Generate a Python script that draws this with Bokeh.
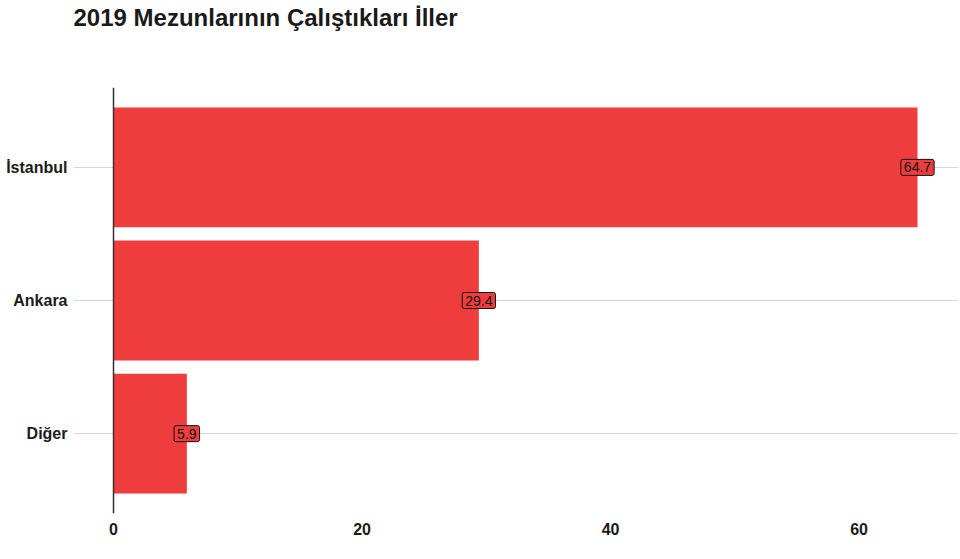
from bokeh.plotting import figure
from bokeh.models import Range1d, FactorRange, Span, ColumnDataSource, Title
from bokeh.core.properties import value
from bokeh.embed import file_html
from bokeh.resources import INLINE

cities = ["Diğer", "Ankara", "İstanbul"]
shares = [5.9, 29.4, 64.7]
x_ticks = [0, 20, 40, 60]

BAR = "#ef3d3e"
FONT = "Liberation Sans"

src = ColumnDataSource(dict(city=cities, share=shares, txt=[f"{v}" for v in shares]))

p = figure(width=960, height=559, output_backend="svg", toolbar_location=None,
           y_range=FactorRange(factors=cities, range_padding=0.1, range_padding_units="absolute"),
           x_range=Range1d(-3.22, 68.0),
           min_border_left=73, min_border_right=2, min_border_top=87, min_border_bottom=46)

p.title.text = "2019 Mezunlarının Çalıştıkları İller"
p.title.text_font = FONT
p.title.text_font_size = "24px"
p.title.text_font_style = "bold"
p.title.text_color = "#1a1a1a"
p.title.align = "left"
p.title.standoff = 2

# empty spacer between title and plot area
p.add_layout(Title(text=" ", text_font_size="10px", standoff=43), "above")

p.hbar(y="city", right="share", left=0, height=0.9, color=BAR, line_color=None, source=src)

p.add_layout(Span(location=0, dimension="height", line_color="#333333", line_width=1.5))

p.text(x="share", y="city", text="txt", source=src,
       text_align="center", text_baseline="middle",
       text_font=value(FONT), text_font_size="14px", text_color="#111111",
       background_fill_color=BAR, border_line_color="#111111",
       border_line_width=1, padding=3, border_radius=2)

p.outline_line_color = None
p.background_fill_color = "white"
p.xgrid.grid_line_color = None
p.ygrid.grid_line_color = "#d6d6d6"
p.ygrid.grid_line_width = 1

for ax in (p.xaxis, p.yaxis):
    ax.axis_line_color = None
    ax.major_tick_line_color = None
    ax.minor_tick_line_color = None
    ax.major_tick_out = 0
    ax.major_tick_in = 0
    ax.major_label_text_font = FONT
    ax.major_label_text_font_style = "bold"
    ax.major_label_text_color = "#1a1a1a"

p.xaxis.ticker = x_ticks
p.xaxis.major_label_text_font_size = "16px"
p.xaxis.major_label_standoff = 9
p.yaxis.major_label_text_font_size = "16px"
p.yaxis.major_label_standoff = 6

open("out.html", "w").write(file_html(p, INLINE))
